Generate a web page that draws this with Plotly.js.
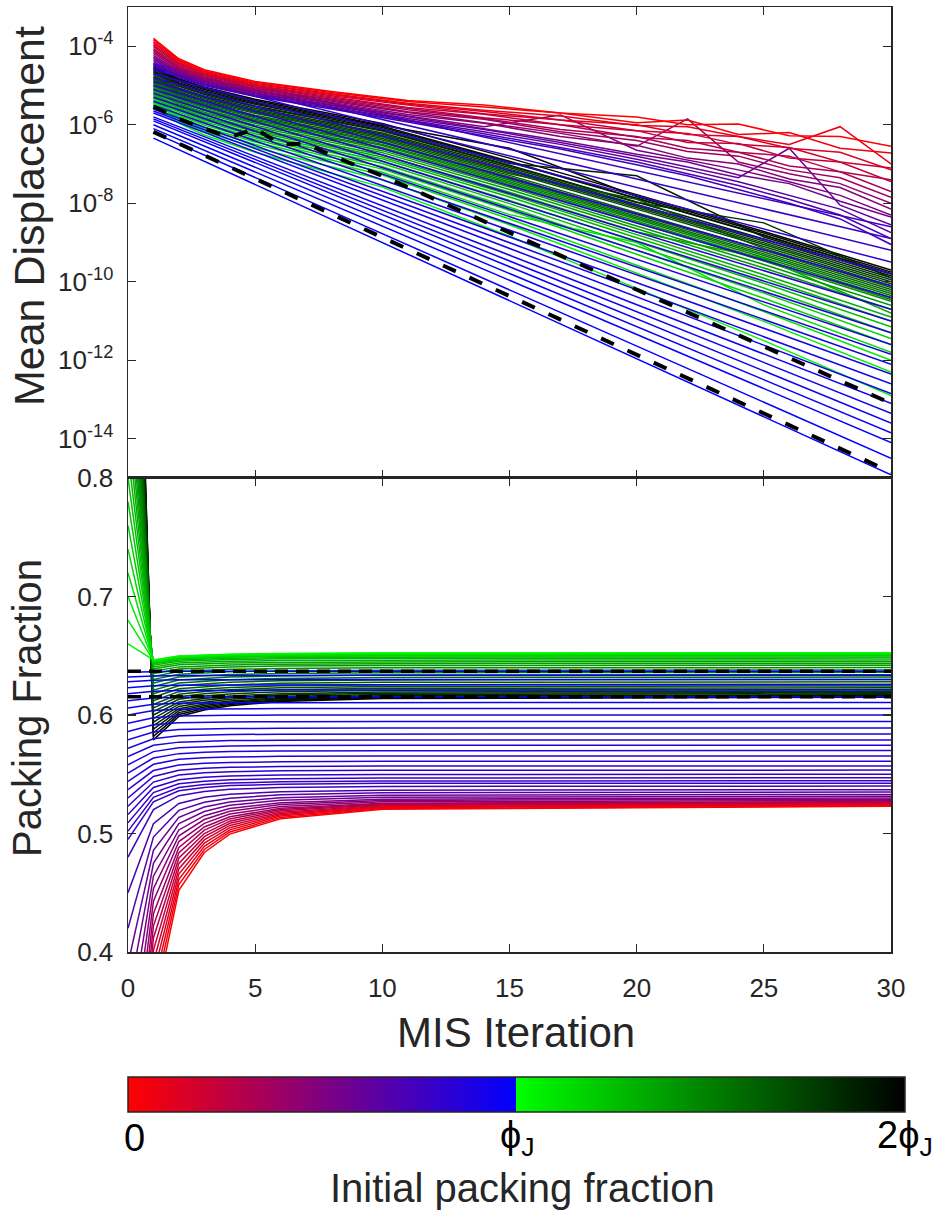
<!DOCTYPE html>
<html>
<head>
<meta charset="utf-8">
<script src="https://cdn.plot.ly/plotly-3.0.1.min.js"></script>
<style>html,body{margin:0;padding:0;background:#fff}#chart{width:932px;height:1213px}</style>
</head>
<body>
<div id="chart"></div>
<script>
// ---------------- DATA ----------------
const PHI_J = 0.64;

// initial packing fraction of each run below jamming (red -> blue)
const lowPhi0 = [0,0.03,0.06,0.09,0.12,0.15,0.18,0.21,0.24,0.27,0.30,0.33,0.36,0.39,0.42,0.45,0.48,
  0.495,0.502,0.509,0.516,0.523,0.530,0.537,0.544,0.551,0.558,0.565,0.572,0.579,0.586,0.593,0.600,0.606,0.612,0.618,0.623,0.628,0.632,0.636];
// initial packing fraction of each run above jamming (green -> black)
const highPhi0 = [0.66,0.68,0.70,0.72,0.74,0.76,0.78,0.80,0.82,0.84,0.86,0.88,0.90,0.92,0.94,0.96,
  0.98,1.00,1.02,1.04,1.06,1.08,1.10,1.12,1.14,1.16,1.18,1.20,1.22,1.24,1.26,1.28];

// TOP PANEL: log10(mean displacement)
const topLowIter = [1,2,3,5,8,11,14,17,20,22,24,26,28,30];
const topLowLog = [
 [-3.80,-4.32,-4.60,-4.90,-5.15,-5.38,-5.50,-5.70,-5.80,-6.00,-5.98,-6.28,-6.30,-6.55],
 [-3.84,-4.35,-4.63,-4.92,-5.18,-5.41,-5.55,-5.70,-5.95,-5.88,-6.25,-6.20,-6.60,-6.72],
 [-3.89,-4.38,-4.65,-4.95,-5.21,-5.45,-5.63,-5.78,-6.02,-6.05,-6.30,-6.50,-6.05,-7.00],
 [-3.93,-4.41,-4.68,-4.97,-5.23,-5.48,-5.66,-5.88,-6.00,-6.25,-6.30,-6.60,-6.70,-7.15],
 [-3.97,-4.44,-4.70,-5.00,-5.26,-5.50,-5.72,-5.88,-6.15,-6.22,-6.50,-6.58,-6.95,-7.10],
 [-4.01,-4.47,-4.73,-5.02,-5.29,-5.56,-5.73,-6.00,-6.15,-6.45,-6.48,-6.85,-6.95,-7.45],
 [-4.06,-4.50,-4.75,-5.04,-5.32,-5.58,-5.82,-6.00,-6.32,-6.40,-6.70,-6.80,-7.20,-7.40],
 [-4.10,-4.53,-4.78,-5.07,-5.35,-5.62,-5.84,-6.12,-6.30,-6.60,-6.70,-7.05,-7.20,-7.70],
 [-4.14,-4.56,-4.80,-5.09,-5.37,-5.67,-5.86,-6.18,-6.40,-6.68,-6.80,-7.15,-7.35,-7.85],
 [-4.18,-4.59,-4.83,-5.12,-5.40,-5.69,-5.95,-6.22,-6.55,-5.85,-6.95,-7.25,-7.50,-8.00],
 [-4.23,-4.62,-4.85,-5.14,-5.43,-5.74,-5.96,-6.30,-6.52,-6.85,-7.00,-7.38,-7.60,-8.15],
 [-4.27,-4.65,-4.88,-5.16,-5.46,-5.78,-6.05,-5.75,-6.65,-6.90,-7.15,-7.45,-7.80,-8.30],
 [-4.31,-4.68,-4.90,-5.19,-5.49,-5.80,-6.10,-6.40,-6.75,-6.95,-7.28,-7.50,-7.95,-8.35],
 [-4.35,-4.71,-4.93,-5.21,-5.51,-5.84,-6.12,-6.45,-6.80,-7.08,-7.35,-6.60,-8.05,-8.55],
 [-4.40,-4.74,-4.95,-5.24,-5.54,-5.88,-6.18,-6.50,-6.88,-7.15,-7.45,-7.80,-8.15,-8.75],
 [-4.44,-4.77,-4.98,-5.26,-5.57,-5.90,-6.23,-6.58,-6.95,-7.25,-7.55,-7.90,-8.30,-8.90],
 [-4.48,-4.80,-5.00,-5.28,-5.60,-5.93,-6.28,-6.62,-7.02,-7.30,-7.65,-8.00,-8.40,-9.05]
];
// runs close below jamming decay straight (log scale): value at iteration 1 and 30
const topBlueIter = [1,30];
const topBlueLog = [
 [-4.45,-8.6],[-4.5,-8.9],[-4.55,-9.2],[-4.6,-9.5],[-4.7,-9.8],[-4.8,-10.1],[-4.9,-10.4],[-5.0,-10.7],
 [-5.1,-11.0],[-5.2,-11.3],[-5.3,-11.6],[-5.4,-11.85],[-5.5,-12.1],[-5.6,-12.35],[-5.65,-12.6],[-5.7,-12.85],
 [-5.8,-13.1],[-5.85,-13.35],[-5.9,-13.6],[-6.0,-13.85],[-6.1,-14.1],[-6.2,-14.5],[-6.34,-14.92]
];
const topHighIter = [1,2,3,5,10,15,20,25,30];
const topHighLog = [
 [-5.52,-5.96,-6.26,-6.70,-7.59,-8.84,-10.17,-11.50,-12.9],
 [-5.49,-5.90,-6.17,-6.58,-7.40,-8.55,-9.78,-11.01,-12.3],
 [-5.45,-5.84,-6.11,-6.50,-7.28,-8.40,-9.58,-10.76,-12.0],
 [-5.42,-5.80,-6.06,-6.44,-7.21,-8.29,-9.00,-10.59,-11.8],
 [-5.39,-5.76,-6.01,-6.38,-7.13,-8.18,-9.30,-10.42,-11.6],
 [-5.36,-5.73,-5.97,-6.33,-7.07,-8.10,-9.20,-10.29,-11.45],
 [-5.32,-5.68,-5.92,-6.28,-6.99,-8.01,-9.09,-10.16,-11.3],
 [-5.29,-5.64,-5.88,-6.23,-6.93,-7.93,-8.98,-10.04,-11.15],
 [-5.26,-5.60,-5.83,-6.18,-6.87,-7.84,-8.88,-9.91,-11.0],
 [-5.23,-5.57,-5.80,-6.14,-6.82,-7.78,-8.80,-9.82,-10.9],
 [-5.20,-5.54,-5.76,-6.10,-6.77,-7.72,-8.73,-9.40,-10.8],
 [-5.16,-5.49,-5.71,-6.05,-6.71,-7.65,-8.65,-9.65,-10.7],
 [-5.13,-5.46,-5.68,-6.01,-6.66,-7.59,-8.58,-9.56,-10.6],
 [-5.10,-5.42,-5.64,-5.96,-6.61,-7.53,-8.50,-9.47,-10.5],
 [-5.07,-5.39,-5.61,-5.93,-6.58,-7.49,-8.46,-9.43,-10.45],
 [-5.03,-5.35,-5.57,-5.89,-6.53,-7.45,-8.41,-9.38,-10.4],
 [-5.00,-5.32,-5.54,-5.86,-6.50,-7.41,-8.37,-9.33,-10.35],
 [-4.97,-5.29,-5.50,-5.82,-6.46,-7.37,-8.33,-9.29,-10.3],
 [-4.94,-5.26,-5.47,-5.79,-6.43,-7.33,-8.29,-9.24,-10.25],
 [-4.91,-5.23,-5.44,-5.76,-6.39,-7.29,-8.24,-9.19,-10.2],
 [-4.87,-5.19,-5.40,-5.71,-6.35,-7.25,-7.90,-9.15,-10.15],
 [-4.84,-5.16,-5.37,-5.68,-6.31,-7.21,-8.15,-9.10,-10.1],
 [-4.81,-5.12,-5.33,-5.65,-6.28,-7.17,-8.11,-9.05,-10.05],
 [-4.78,-5.09,-5.30,-5.62,-6.24,-7.13,-8.07,-9.01,-10.0],
 [-4.75,-5.06,-5.27,-5.58,-6.21,-7.09,-8.03,-8.96,-9.95],
 [-4.71,-5.02,-5.23,-5.54,-6.16,-7.05,-7.98,-8.50,-9.9],
 [-4.68,-4.99,-5.20,-5.52,-6.14,-7.03,-7.97,-8.91,-9.9],
 [-4.65,-4.96,-5.17,-5.48,-6.11,-6.99,-7.30,-8.86,-9.85],
 [-4.62,-4.93,-5.14,-5.45,-6.07,-6.95,-7.88,-8.82,-9.8],
 [-4.58,-4.89,-5.10,-5.42,-6.04,-6.93,-7.87,-8.81,-9.8],
 [-4.55,-4.86,-5.07,-5.38,-6.01,-6.60,-7.83,-8.76,-9.75],
 [-4.52,-4.83,-5.04,-5.35,-5.97,-6.85,-7.78,-8.72,-9.7]
];
// dashed reference runs (top)
const topDashAIter = [1,2,3,4,5,6,7,8,9,10,30];
const topDashALog  = [-5.54,-5.85,-6.1,-6.32,-6.1,-6.5,-6.48,-6.78,-7.05,-7.3,-13.1];
const topDashBIter = [1,30];
const topDashBLog  = [-6.18,-14.85];

// BOTTOM PANEL: packing fraction (iteration 0 value = initial packing fraction)
const botIter = [0,1,2,3,4,6,10,30];
const botLow = [
 [0.350,0.452,0.484,0.4995,0.5125,0.5204,0.523],
 [0.3606,0.4569,0.4865,0.5013,0.5136,0.521,0.5235],
 [0.3709,0.4614,0.4892,0.5031,0.5147,0.5217,0.524],
 [0.3811,0.4658,0.4919,0.5049,0.5158,0.5223,0.5245],
 [0.3913,0.4703,0.4946,0.5068,0.5169,0.523,0.525],
 [0.4016,0.4748,0.4973,0.5086,0.518,0.5236,0.5255],
 [0.4118,0.4793,0.5,0.5104,0.5191,0.5243,0.526],
 [0.4221,0.4838,0.5028,0.5123,0.5202,0.5249,0.5265],
 [0.4323,0.4883,0.5055,0.5141,0.5213,0.5256,0.527],
 [0.4429,0.4932,0.5086,0.5164,0.5228,0.5267,0.528],
 [0.4534,0.4981,0.5118,0.5187,0.5244,0.5279,0.529],
 [0.464,0.503,0.515,0.521,0.526,0.529,0.530],
 [0.4749,0.5083,0.5186,0.5238,0.5281,0.5306,0.5315],
 [0.4858,0.5137,0.5223,0.5266,0.5301,0.5323,0.533],
 [0.497,0.5195,0.5264,0.5298,0.5327,0.5344,0.535],
 [0.5083,0.5253,0.5305,0.5331,0.5353,0.5366,0.537],
 [0.5202,0.5319,0.5355,0.5373,0.5388,0.5397,0.540],
 [0.5268,0.5361,0.5389,0.5404,0.5415,0.5423,0.5425],
 [0.5305,0.5388,0.5413,0.5426,0.5436,0.5443,0.5445],
 [0.5345,0.5419,0.5441,0.5453,0.5462,0.5468,0.547],
 [0.5388,0.5454,0.5474,0.5485,0.5493,0.5498,0.550],
 [0.5434,0.5494,0.5512,0.5521,0.5529,0.5533,0.5535],
 [0.5481,0.5534,0.555,0.5558,0.5565,0.5569,0.557],
 [0.5531,0.5578,0.5592,0.5599,0.5605,0.5609,0.561],
 [0.5584,0.5626,0.5639,0.5645,0.5651,0.5654,0.5655],
 [0.5637,0.5674,0.5686,0.5691,0.5696,0.5699,0.570],
 [0.5691,0.5723,0.5733,0.5738,0.5742,0.5744,0.5745],
 [0.5744,0.5771,0.578,0.5784,0.5787,0.5789,0.579],
 [0.58,0.5824,0.5831,0.5835,0.5838,0.5839,0.584],
 [0.5857,0.5877,0.5883,0.5886,0.5888,0.589,0.589],
 [0.5917,0.5934,0.5939,0.5941,0.5943,0.5945,0.5945],
 [0.5977,0.5991,0.5995,0.5997,0.5999,0.6,0.6],
 [0.6037,0.6048,0.6051,0.6053,0.6054,0.6055,0.6055],
 [0.609,0.6099,0.6102,0.6103,0.6104,0.6105,0.6105],
 [0.6143,0.615,0.6152,0.6153,0.6154,0.6155,0.6155],
 [0.62,0.6206,0.6208,0.6209,0.621,0.621,0.621],
 [0.6247,0.6252,0.6253,0.6254,0.6255,0.6255,0.6255],
 [0.6293,0.6297,0.6298,0.6299,0.63,0.63,0.63],
 [0.633,0.6333,0.6334,0.6334,0.6335,0.6335,0.6335],
 [0.6367,0.6369,0.6369,0.637,0.637,0.637,0.637]
];
const botHigh = [
 [0.6465,0.6498,0.6507,0.6513,0.6519,0.6523,0.6525],
 [0.6462,0.6495,0.6504,0.651,0.6516,0.652,0.6522],
 [0.6458,0.6492,0.6501,0.6508,0.6514,0.6518,0.652],
 [0.6454,0.6488,0.6497,0.6503,0.6509,0.6513,0.6515],
 [0.645,0.6483,0.6492,0.6498,0.6504,0.6508,0.651],
 [0.6445,0.6478,0.6487,0.6493,0.6499,0.6503,0.6505],
 [0.644,0.6473,0.6482,0.6488,0.6494,0.6498,0.650],
 [0.6432,0.6464,0.6473,0.6478,0.6484,0.6488,0.649],
 [0.642,0.6453,0.6462,0.6468,0.6474,0.6478,0.648],
 [0.6405,0.6438,0.6447,0.6453,0.6459,0.6463,0.6465],
 [0.639,0.6423,0.6432,0.6438,0.6444,0.6448,0.645],
 [0.637,0.6406,0.6416,0.6422,0.6429,0.6433,0.6435],
 [0.635,0.6389,0.6399,0.6406,0.6413,0.6418,0.642],
 [0.6325,0.6366,0.6378,0.6385,0.6393,0.6398,0.640],
 [0.630,0.6344,0.6356,0.6364,0.6372,0.6378,0.638],
 [0.627,0.632,0.6333,0.6342,0.6351,0.6357,0.636],
 [0.624,0.6295,0.631,0.632,0.633,0.6337,0.634],
 [0.621,0.627,0.6287,0.6298,0.6309,0.6317,0.632],
 [0.618,0.6246,0.6264,0.6276,0.6288,0.6296,0.630],
 [0.615,0.6222,0.6241,0.6254,0.6267,0.6276,0.628],
 [0.612,0.6197,0.6218,0.6232,0.6246,0.6256,0.626],
 [0.609,0.6175,0.6199,0.6214,0.623,0.624,0.6245],
 [0.606,0.6154,0.6179,0.6196,0.6213,0.6225,0.623],
 [0.603,0.6132,0.616,0.6178,0.6197,0.6209,0.6215],
 [0.600,0.611,0.614,0.616,0.618,0.6194,0.620],
 [0.597,0.6091,0.6124,0.6146,0.6168,0.6183,0.619],
 [0.594,0.6072,0.6108,0.6132,0.6156,0.6173,0.618],
 [0.591,0.6053,0.6092,0.6118,0.6144,0.6162,0.617],
 [0.588,0.6037,0.608,0.6108,0.6137,0.6156,0.6165],
 [0.585,0.602,0.6067,0.6098,0.6129,0.6151,0.616],
 [0.582,0.6004,0.6055,0.6088,0.6122,0.6145,0.6155],
 [0.579,0.5988,0.6042,0.6078,0.6114,0.6139,0.615]
];
const botDashIter = [0,30];
const botDashA = [0.637,0.637];
const botDashB = [0.6155,0.6155];

// axis tick labels
const xTicks = [0,5,10,15,20,25,30];
const yBotTicks = [0.4,0.5,0.6,0.7,0.8];
const yBotText = ['0.4','0.5','0.6','0.7','0.8'];
const yTopLabelExp = [-14,-12,-10,-8,-6,-4];
const yTopText = ['10<sup>-14</sup>','10<sup>-12</sup>','10<sup>-10</sup>','10<sup>-8</sup>','10<sup>-6</sup>','10<sup>-4</sup>'];
const yTopOtherExp = [-15,-13,-11,-9,-7,-5,-3];
const cbLabels = ['0','ϕ<sub>J</sub>','2ϕ<sub>J</sub>'];

// ---------------- STYLE / BUILD ----------------
const FONT = 'Liberation Sans, Arial, Helvetica, sans-serif';
const INK = 'rgb(38,38,38)';
const LW = 1.5;
function lowColor(p){const t=p/PHI_J;return 'rgb('+Math.round(255*(1-t))+',0,'+Math.round(255*t)+')';}
function highColor(p){const u=Math.min(1,(p-PHI_J)/PHI_J);return 'rgb(0,'+Math.round(255*(1-u))+',0)';}
const pow10 = a => a.map(v => Math.pow(10, v));

const traces = [];
function line(x, y, color, xa, ya, extra){
  traces.push(Object.assign({type:'scatter', mode:'lines', x:x, y:y, xaxis:xa, yaxis:ya,
    line:{color:color, width:LW}, hoverinfo:'skip', showlegend:false}, extra||{}));
}
// draw order: highest initial packing fraction first, lowest last (red on top)
for (let j = highPhi0.length-1; j >= 0; j--) {
  const c = highColor(highPhi0[j]);
  line(topHighIter, pow10(topHighLog[j]), c, 'x2', 'y2');
  line(botIter, [highPhi0[j]].concat(botHigh[j]), c, 'x', 'y');
}
for (let i = lowPhi0.length-1; i >= 0; i--) {
  const c = lowColor(lowPhi0[i]);
  if (i >= topLowLog.length) line(topBlueIter, pow10(topBlueLog[i-topLowLog.length]), c, 'x2', 'y2');
  else line(topLowIter, pow10(topLowLog[i]), c, 'x2', 'y2');
  line(botIter, [lowPhi0[i]].concat(botLow[i]), c, 'x', 'y');
}
// dashed reference curves
line(topDashAIter, pow10(topDashALog), 'black', 'x2', 'y2', {line:{color:'black', width:4, dash:'14px,15px'}});
line(topDashBIter, pow10(topDashBLog), 'black', 'x2', 'y2', {line:{color:'black', width:4, dash:'14px,15px'}});
line(botDashIter, botDashA, 'black', 'x', 'y', {line:{color:'black', width:3.5, dash:'13px,8px'}});
line(botDashIter, botDashB, 'black', 'x', 'y', {line:{color:'black', width:3.5, dash:'13px,8px'}});

// colour bar host (marker hidden, outside axis range)
traces.push({type:'scatter', mode:'markers', x:[15], y:[0.1], xaxis:'x', yaxis:'y', hoverinfo:'skip', showlegend:false,
  marker:{size:1, opacity:0, color:[0], cmin:0, cmax:1, showscale:true,
    colorscale:[[0,'rgb(255,0,0)'],[0.4999,'rgb(0,0,255)'],[0.5,'rgb(0,255,0)'],[1,'rgb(0,0,0)']],
    colorbar:{orientation:'h', x:0, xanchor:'left', y:-0.1323, yanchor:'top', len:777, lenmode:'pixels',
      thickness:35, thicknessmode:'pixels', xpad:0, ypad:0, outlinewidth:1.5, outlinecolor:INK,
      showticklabels:false, ticks:''}}});

// log-axis tick marks for unlabelled decades and minor positions (short inside ticks, both sides)
const PLOT_W = 763;
const tickShapes = [];
function yTick(logv, len, w){
  const f = len / PLOT_W;
  tickShapes.push({type:'line', xref:'x2 domain', yref:'y2', x0:0, x1:f, y0:logv, y1:logv, line:{color:INK, width:w}, layer:'above'});
  tickShapes.push({type:'line', xref:'x2 domain', yref:'y2', x0:1-f, x1:1, y0:logv, y1:logv, line:{color:INK, width:w}, layer:'above'});
}
yTopOtherExp.forEach(e => yTick(e, 8, 1.3));
for (let e = -15; e < -3; e++) for (let k = 2; k <= 9; k++) yTick(e + Math.log10(k), 6, 1.2);

const axCommon = {ticks:'inside', ticklen:8, tickwidth:1.3, tickcolor:INK, showline:true, linecolor:INK,
  linewidth:1.5, mirror:'ticks', showgrid:false, zeroline:false, tickfont:{family:FONT, size:26, color:INK}};

const layout = {
  width:932, height:1213,
  margin:{l:128, r:41, t:7, b:261},
  paper_bgcolor:'white', plot_bgcolor:'white', showlegend:false,
  font:{family:FONT, color:INK, size:26},
  xaxis: Object.assign({}, axCommon, {domain:[0,1], range:[0,30], anchor:'y', tickmode:'array', tickvals:xTicks,
    ticktext:xTicks.map(String), ticklabelstandoff:12}),
  yaxis: Object.assign({}, axCommon, {domain:[0,0.5016], range:[0.4,0.8], anchor:'x', tickmode:'array',
    tickvals:yBotTicks, ticktext:yBotText, ticklabelstandoff:8}),
  xaxis2: Object.assign({}, axCommon, {domain:[0,1], range:[0,30], anchor:'y2', tickmode:'array', tickvals:xTicks,
    showticklabels:false}),
  yaxis2: Object.assign({}, axCommon, {domain:[0.5016,1], type:'log', range:[-15,-3], anchor:'x2', tickmode:'array',
    tickvals:yTopLabelExp.map(e => Math.pow(10, e)), ticktext:yTopText, ticklabelstandoff:8}),
  shapes: tickShapes,
  annotations:[
    {text:'Mean Displacement', xref:'paper', yref:'paper', x:-0.1297, y:0.7788, textangle:-90, showarrow:false,
      xanchor:'center', yanchor:'middle', font:{family:FONT, size:43, color:INK}},
    {text:'Packing Fraction', xref:'paper', yref:'paper', x:-0.1324, y:0.2582, textangle:-90, showarrow:false,
      xanchor:'center', yanchor:'middle', font:{family:FONT, size:40, color:INK}},
    {text:'MIS Iteration', xref:'paper', yref:'paper', x:0.5085, y:-0.0847, showarrow:false,
      xanchor:'center', yanchor:'middle', font:{family:FONT, size:42, color:INK}},
    {text:cbLabels[0], xref:'paper', yref:'paper', x:0.0079, y:-0.1968, showarrow:false,
      xanchor:'center', yanchor:'middle', font:{family:FONT, size:38, color:'black'}},
    {text:cbLabels[1], xref:'paper', yref:'paper', x:0.5105, y:-0.1968, showarrow:false,
      xanchor:'center', yanchor:'middle', font:{family:FONT, size:38, color:'black'}},
    {text:cbLabels[2], xref:'paper', yref:'paper', x:1.018, y:-0.1968, showarrow:false,
      xanchor:'center', yanchor:'middle', font:{family:FONT, size:38, color:'black'}},
    {text:'Initial packing fraction', xref:'paper', yref:'paper', x:0.5164, y:-0.2497, showarrow:false,
      xanchor:'center', yanchor:'middle', font:{family:FONT, size:40, color:INK}}
  ]
};

Plotly.newPlot('chart', traces, layout, {staticPlot:true, displayModeBar:false});
</script>
</body>
</html>
